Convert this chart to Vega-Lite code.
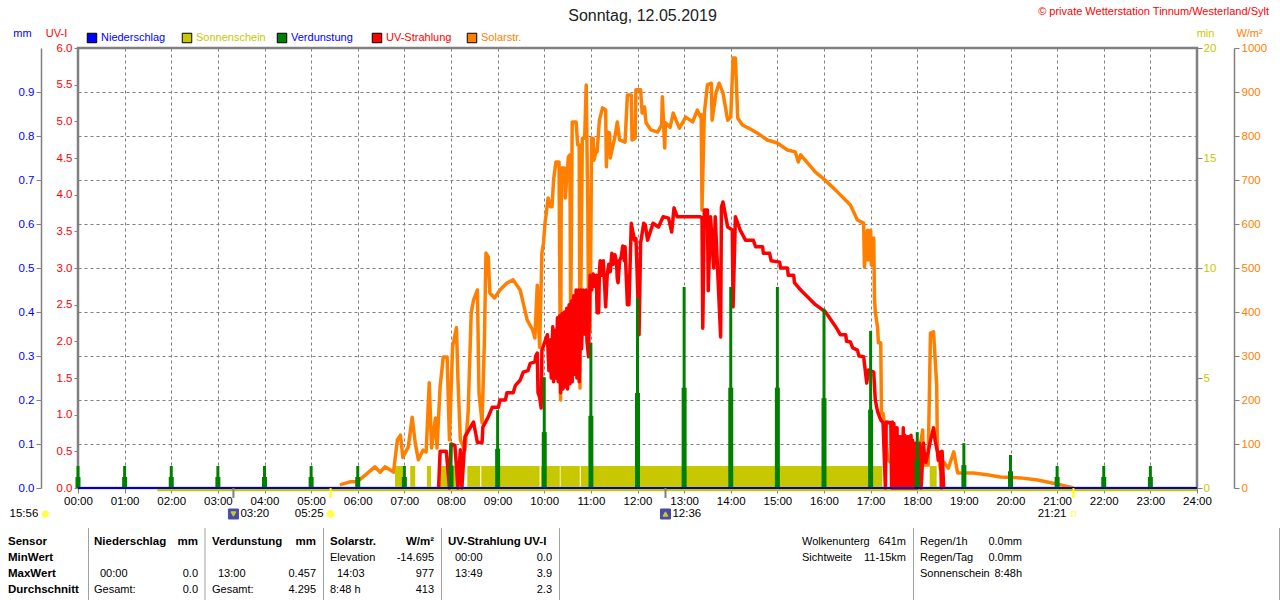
{
  "$schema": "https://vega.github.io/schema/vega-lite/v6.json",
  "width": 1119,
  "height": 440,
  "autosize": {"type": "none"},
  "padding": {"left": 78, "top": 48, "right": 83, "bottom": 112},
  "background": "white",
  "title": {"text": "Sonntag, 12.05.2019", "font": "Liberation Sans", "fontSize": 16, "fontWeight": "normal", "color": "#222222", "anchor": "middle", "dx": 5, "offset": -18},
  "config": {
    "view": {"stroke": "#808080", "strokeWidth": 2.5},
    "font": "Liberation Sans",
    "axis": {"labelFont": "Liberation Sans", "labelFontSize": 11.5, "labelFontWeight": "normal", "titleFont": "Liberation Sans", "titleFontSize": 11, "titleFontWeight": "normal", "tickColor": "#808080", "domainColor": "#808080", "labelOverlap": false, "labelFlush": false},
    "text": {"font": "Liberation Sans", "fontSize": 11, "baseline": "middle", "color": "#000000"}
  },
  "datasets": {
    "sun": [
      {"from": 408, "to": 418.5, "min": 1}, {"from": 427.5, "to": 434, "min": 1}, {"from": 449, "to": 454.5, "min": 1},
      {"from": 463.5, "to": 489, "min": 1}, {"from": 501, "to": 517.6, "min": 1}, {"from": 519, "to": 594, "min": 1},
      {"from": 595.5, "to": 620, "min": 1}, {"from": 621, "to": 645.7, "min": 1}, {"from": 647, "to": 657, "min": 1},
      {"from": 659, "to": 1035, "min": 1}, {"from": 1096, "to": 1105, "min": 1}
    ],
    "sunBase": [{"t": 102, "min": 0}, {"t": 1440, "min": 0}],
    "rainBase": [{"t": 0, "mm": 0}, {"t": 1440, "mm": 0}],
    "evap": [
      {"t": 0, "mm": 0.05, "half": 0.025}, {"t": 60, "mm": 0.05, "half": 0.025}, {"t": 120, "mm": 0.05, "half": 0.025},
      {"t": 180, "mm": 0.05, "half": 0.025}, {"t": 240, "mm": 0.05, "half": 0.025}, {"t": 300, "mm": 0.05, "half": 0.025},
      {"t": 360, "mm": 0.05, "half": 0.025}, {"t": 420, "mm": 0.05, "half": 0.025}, {"t": 480, "mm": 0.102, "half": 0.051},
      {"t": 540, "mm": 0.177, "half": 0.089}, {"t": 600, "mm": 0.252, "half": 0.127}, {"t": 660, "mm": 0.33, "half": 0.164},
      {"t": 720, "mm": 0.432, "half": 0.216}, {"t": 780, "mm": 0.457, "half": 0.228}, {"t": 840, "mm": 0.457, "half": 0.228},
      {"t": 900, "mm": 0.457, "half": 0.228}, {"t": 960, "mm": 0.407, "half": 0.204}, {"t": 1020, "mm": 0.357, "half": 0.178},
      {"t": 1080, "mm": 0.127, "half": 0.064}, {"t": 1140, "mm": 0.102, "half": 0.052}, {"t": 1200, "mm": 0.075, "half": 0.038},
      {"t": 1260, "mm": 0.05, "half": 0.025}, {"t": 1320, "mm": 0.05, "half": 0.025}, {"t": 1380, "mm": 0.05, "half": 0.025}
    ],
    "solar": [
      {"t":337,"w":7},{"t":350,"w":14},{"t":359,"w":14},{"t":370,"w":30},{"t":382,"w":48},{"t":389,"w":36},{"t":395,"w":48},{"t":402,"w":41},{"t":406,"w":36},{"t":411,"w":109},{"t":415,"w":120},{"t":418,"w":70},{"t":425,"w":93},{"t":430,"w":161},{"t":434,"w":102},{"t":438,"w":64},{"t":444,"w":86},{"t":448,"w":82},{"t":452,"w":239},{"t":455,"w":91},{"t":460,"w":159},{"t":462,"w":91},{"t":466,"w":230},{"t":469,"w":280},{"t":470,"w":298},{"t":475,"w":298},{"t":478,"w":109},{"t":482,"w":320},{"t":487,"w":364},{"t":489,"w":245},{"t":492,"w":109},{"t":498,"w":86},{"t":502,"w":170},{"t":506,"w":398},{"t":509,"w":427},{"t":514,"w":450},{"t":516,"w":216},{"t":520,"w":148},{"t":523,"w":336},{"t":525,"w":534},{"t":528,"w":525},{"t":530,"w":443},{"t":536,"w":432},{"t":543,"w":450},{"t":552,"w":466},{"t":560,"w":473},{"t":569,"w":450},{"t":573,"w":420},{"t":578,"w":382},{"t":585,"w":359},{"t":588,"w":341},{"t":591,"w":461},{"t":594,"w":320},{"t":597,"w":534},{"t":599,"w":557},
      {"t":601,"w":602},{"t":605,"w":659},{"t":608,"w":639},{"t":610,"w":639},{"t":612,"w":700},{"t":615,"w":741},{"t":619,"w":741},{"t":621,"w":200},{"t":622,"w":727},{"t":626,"w":727},{"t":627,"w":659},{"t":631,"w":752},{"t":633,"w":757},{"t":634,"w":364},{"t":636,"w":832},{"t":641,"w":832},{"t":643,"w":780},{"t":645,"w":780},{"t":646,"w":227},{"t":649,"w":795},{"t":652,"w":795},{"t":654,"w":916},{"t":656,"w":639},{"t":657,"w":400},{"t":659,"w":359},{"t":661,"w":795},{"t":663,"w":795},{"t":664,"w":745},{"t":667,"w":768},{"t":668,"w":764},{"t":671,"w":836},{"t":675,"w":864},{"t":679,"w":859},{"t":680,"w":730},{"t":681,"w":809},{"t":684,"w":807},{"t":685,"w":750},{"t":688,"w":775},{"t":691,"w":798},
      {"t":694,"w":832},{"t":697,"w":791},{"t":704,"w":786},{"t":707,"w":893},{"t":712,"w":893},{"t":713,"w":791},{"t":717,"w":795},{"t":718,"w":905},{"t":724,"w":905},{"t":726,"w":852},{"t":729,"w":866},{"t":731,"w":830},{"t":737,"w":814},{"t":746,"w":809},{"t":751,"w":825},{"t":752,"w":889},{"t":755,"w":773},{"t":756,"w":830},{"t":762,"w":820},{"t":766,"w":852},{"t":771,"w":830},{"t":774,"w":818},{"t":782,"w":843},{"t":791,"w":832},{"t":797,"w":859},{"t":801,"w":843},{"t":802,"w":848},{"t":803,"w":632},{"t":806,"w":852},{"t":810,"w":916},{"t":815,"w":920},{"t":816,"w":836},{"t":821,"w":898},{"t":825,"w":920},{"t":830,"w":898},{"t":836,"w":836},{"t":840,"w":843},{"t":843,"w":977},{"t":846,"w":977},{"t":849,"w":841},{"t":855,"w":825},{"t":863,"w":818},{"t":874,"w":807},{"t":887,"w":791},{"t":900,"w":784},{"t":913,"w":768},{"t":923,"w":764},{"t":927,"w":741},{"t":930,"w":757},{"t":949,"w":718},{"t":958,"w":705},{"t":975,"w":677},{"t":994,"w":643},{"t":1003,"w":609},{"t":1011,"w":602},{"t":1012,"w":502},{"t":1016,"w":586},{"t":1017,"w":518},{"t":1020,"w":586},{"t":1021,"w":507},{"t":1024,"w":568},{"t":1025,"w":432},{"t":1026,"w":400},{"t":1029,"w":364},{"t":1030,"w":330},{"t":1033,"w":330},{"t":1034,"w":170},{"t":1036,"w":170},{"t":1039,"w":125},{"t":1042,"w":64},{"t":1046,"w":59},{"t":1052,"w":75},{"t":1071,"w":86},{"t":1082,"w":75},{"t":1087,"w":132},{"t":1088,"w":52},{"t":1094,"w":52},{"t":1097,"w":352},{"t":1101,"w":355},{"t":1105,"w":234},{"t":1106,"w":86},{"t":1110,"w":41},{"t":1114,"w":59},{"t":1120,"w":45},{"t":1127,"w":82},{"t":1132,"w":34},{"t":1152,"w":34},{"t":1170,"w":30},{"t":1187,"w":25},{"t":1213,"w":23},{"t":1235,"w":18},{"t":1255,"w":11},{"t":1277,"w":2},{"t":1281,"w":0}
    ],
    "uv": [
      {"t":464,"uv":0},{"t":466,"uv":0.5},{"t":474,"uv":0.5},{"t":478,"uv":0},{"t":480,"uv":0.6},{"t":485,"uv":0.58},{"t":489,"uv":0},{"t":492,"uv":0.52},{"t":494,"uv":0},{"t":497,"uv":0.52},{"t":498,"uv":0.7},{"t":509,"uv":0.9},{"t":514,"uv":0.62},{"t":520,"uv":0.62},{"t":521,"uv":0.83},{"t":528,"uv":0.97},{"t":533,"uv":1.1},{"t":541,"uv":1.1},{"t":543,"uv":1.2},{"t":550,"uv":1.2},{"t":552,"uv":1.3},{"t":560,"uv":1.3},{"t":563,"uv":1.4},{"t":569,"uv":1.47},{"t":573,"uv":1.58},{"t":579,"uv":1.6},{"t":582,"uv":1.7},{"t":588,"uv":1.72},{"t":589,"uv":1.8},{"t":591,"uv":1.84},{"t":592,"uv":1.3},{"t":594,"uv":1.24},{"t":596,"uv":1.09},{"t":597,"uv":1.88},{"t":604,"uv":2.09},{"t":606,"uv":1.6},{"t":608,"uv":2.02},{"t":609,"uv":1.5},{"t":611,"uv":2.2},{"t":612,"uv":1.45},{"t":614,"uv":2.15},{"t":615,"uv":1.5},{"t":617,"uv":2.32},{"t":618,"uv":1.45},{"t":620,"uv":2.35},{"t":621,"uv":1.3},{"t":623,"uv":2.38},{"t":624,"uv":1.35},{"t":626,"uv":2.4},{"t":627,"uv":1.38},{"t":629,"uv":2.45},{"t":630,"uv":1.35},{"t":632,"uv":2.5},{"t":633,"uv":1.42},{"t":635,"uv":2.55},{"t":636,"uv":1.45},{"t":638,"uv":2.62},{"t":639,"uv":1.55},{"t":641,"uv":2.7},{"t":642,"uv":1.5},{"t":644,"uv":2.7},{"t":645,"uv":1.45},{"t":647,"uv":2.7},{"t":648,"uv":1.9},{"t":650,"uv":2.7},{"t":651,"uv":2.1},{"t":654,"uv":2.7},{"t":655,"uv":2.0},{"t":657,"uv":1.79},{"t":659,"uv":2.9},{"t":661,"uv":2.7},{"t":663,"uv":2.92},{"t":665,"uv":2.75},{"t":667,"uv":2.9},{"t":668,"uv":2.39},{"t":670,"uv":2.39},{"t":671,"uv":2.95},{"t":672,"uv":3.1},{"t":674,"uv":2.9},{"t":676,"uv":3.1},{"t":678,"uv":2.7},{"t":679,"uv":2.47},{"t":681,"uv":2.9},{"t":683,"uv":3.05},{"t":685,"uv":2.95},{"t":687,"uv":3.2},{"t":689,"uv":3.05},{"t":691,"uv":3.18},{"t":693,"uv":3.08},{"t":694,"uv":2.85},{"t":695,"uv":2.8},{"t":697,"uv":3.1},{"t":699,"uv":3.15},{"t":701,"uv":3.3},{"t":703,"uv":3.1},{"t":704,"uv":3.29},{"t":707,"uv":2.5},{"t":709,"uv":2.5},{"t":712,"uv":3.61},{"t":716,"uv":3.38},{"t":718,"uv":3.4},{"t":719,"uv":3.1},{"t":722,"uv":2.09},{"t":724,"uv":3.34},{"t":728,"uv":3.61},{"t":730,"uv":3.59},{"t":733,"uv":3.38},{"t":740,"uv":3.61},{"t":747,"uv":3.56},{"t":753,"uv":3.7},{"t":760,"uv":3.68},{"t":764,"uv":3.49},{"t":767,"uv":3.82},{"t":771,"uv":3.7},{"t":801,"uv":3.7},{"t":803,"uv":3.68},{"t":804,"uv":2.18},{"t":806,"uv":3.79},{"t":810,"uv":3.79},{"t":811,"uv":2.69},{"t":814,"uv":3.7},{"t":818,"uv":3.0},{"t":820,"uv":3.7},{"t":827,"uv":2.06},{"t":828,"uv":3.83},{"t":830,"uv":3.9},{"t":836,"uv":3.56},{"t":842,"uv":3.52},{"t":843,"uv":2.47},{"t":846,"uv":3.7},{"t":852,"uv":3.52},{"t":859,"uv":3.38},{"t":869,"uv":3.38},{"t":872,"uv":3.29},{"t":881,"uv":3.29},{"t":882,"uv":3.2},{"t":890,"uv":3.2},{"t":892,"uv":3.1},{"t":903,"uv":3.08},{"t":904,"uv":3.0},{"t":913,"uv":3.0},{"t":914,"uv":2.9},{"t":921,"uv":2.9},{"t":922,"uv":2.8},{"t":930,"uv":2.7},{"t":949,"uv":2.5},{"t":962,"uv":2.4},{"t":975,"uv":2.2},{"t":981,"uv":2.09},{"t":988,"uv":2.09},{"t":989,"uv":2.0},{"t":994,"uv":1.99},{"t":997,"uv":1.91},{"t":1003,"uv":1.88},{"t":1005,"uv":1.8},{"t":1011,"uv":1.79},{"t":1015,"uv":1.43},{"t":1017,"uv":1.61},{"t":1024,"uv":1.58},{"t":1026,"uv":1.2},{"t":1029,"uv":1.04},{"t":1033,"uv":0.93},{"t":1036,"uv":0.89},{"t":1039,"uv":0},{"t":1040,"uv":0.9},{"t":1046,"uv":0.89},{"t":1047,"uv":0},{"t":1048,"uv":0.9},{"t":1049,"uv":0},{"t":1050,"uv":0.88},{"t":1051,"uv":0},{"t":1052,"uv":0.82},{"t":1053,"uv":0},{"t":1054,"uv":0.82},{"t":1055,"uv":0},{"t":1056,"uv":0.7},{"t":1057,"uv":0},{"t":1058,"uv":0.7},{"t":1059,"uv":0},{"t":1060,"uv":0.7},{"t":1061,"uv":0},{"t":1062,"uv":0.82},{"t":1063,"uv":0},{"t":1064,"uv":0.72},{"t":1065,"uv":0},{"t":1066,"uv":0.7},{"t":1067,"uv":0},{"t":1068,"uv":0.7},{"t":1069,"uv":0},{"t":1070,"uv":0.7},{"t":1071,"uv":0},{"t":1072,"uv":0.72},{"t":1073,"uv":0},{"t":1074,"uv":0.65},{"t":1075,"uv":0},{"t":1076,"uv":0.61},{"t":1077,"uv":0},{"t":1078,"uv":0.61},{"t":1080,"uv":0},{"t":1083,"uv":0.61},{"t":1085,"uv":0},{"t":1088,"uv":0.61},{"t":1089,"uv":0.49},{"t":1091,"uv":0.35},{"t":1094,"uv":0.49},{"t":1097,"uv":0.65},{"t":1101,"uv":0.82},{"t":1103,"uv":0.65},{"t":1106,"uv":0.49},{"t":1107,"uv":0.38},{"t":1110,"uv":0.49},{"t":1111,"uv":0},{"t":1112,"uv":0.5},{"t":1114,"uv":0}
    ],
    "events": [
      {"t": 200, "kind": "moon", "row": 2, "row2": 3}, {"t": 325, "kind": "sun", "row": 2, "row2": 3},
      {"t": 756, "kind": "moon", "row": 2, "row2": 3}, {"t": 1281, "kind": "sun", "row": 2, "row2": 3}
    ],
    "icons": [
      {"t": -42, "icon": "moonlow", "row": 4}, {"t": 200, "icon": "moonbox", "row": 4}, {"t": 200, "icon": "down", "row": 4},
      {"t": 325, "icon": "sun", "row": 4}, {"t": 756, "icon": "moonbox", "row": 4}, {"t": 756, "icon": "up", "row": 4},
      {"t": 1281, "icon": "sunset", "row": 4}
    ],
    "timesRight": [{"t": -42, "text": "15:56", "row": 4}, {"t": 325, "text": "05:25", "row": 4}, {"t": 1281, "text": "21:21", "row": 4}],
    "timesLeft": [{"t": 200, "text": "03:20", "row": 4}, {"t": 756, "text": "12:36", "row": 4}],
    "legend": [
      {"series": "Niederschlag", "row": 1}, {"series": "Sonnenschein", "row": 1}, {"series": "Verdunstung", "row": 1},
      {"series": "UV-Strahlung", "row": 1}, {"series": "Solarstr.", "row": 1}
    ],
    "separators": [
      {"col": 1, "row": 5, "row2": 10}, {"col": 5, "row": 5, "row2": 10}, {"col": 9, "row": 5, "row2": 10}, {"col": 13, "row": 5, "row2": 10},
      {"col": 17, "row": 5, "row2": 10}, {"col": 20, "row": 5, "row2": 10}, {"col": 24, "row": 5, "row2": 10}
    ],
    "credit": [{"text": "© private Wetterstation Tinnum/Westerland/Sylt", "col": 23, "row": 0}],
    "boldLeft": [
      {"text": "Sensor", "col": 0, "row": 6}, {"text": "MinWert", "col": 0, "row": 7}, {"text": "MaxWert", "col": 0, "row": 8}, {"text": "Durchschnitt", "col": 0, "row": 9},
      {"text": "Niederschlag", "col": 2, "row": 6}, {"text": "Verdunstung", "col": 6, "row": 6}, {"text": "Solarstr.", "col": 10, "row": 6}, {"text": "UV-Strahlung UV-I", "col": 14, "row": 6}
    ],
    "boldRight": [{"text": "mm", "col": 4, "row": 6}, {"text": "mm", "col": 8, "row": 6}, {"text": "W/m²", "col": 12, "row": 6}],
    "plainLeft": [
      {"text": "00:00", "col": 3, "row": 8}, {"text": "Gesamt:", "col": 2, "row": 9}, {"text": "13:00", "col": 7, "row": 8}, {"text": "Gesamt:", "col": 6, "row": 9},
      {"text": "Elevation", "col": 10, "row": 7}, {"text": "14:03", "col": 11, "row": 8}, {"text": "8:48 h", "col": 10, "row": 9},
      {"text": "00:00", "col": 15, "row": 7}, {"text": "13:49", "col": 15, "row": 8},
      {"text": "Wolkenunterg", "col": 18, "row": 6}, {"text": "Sichtweite", "col": 18, "row": 7},
      {"text": "Regen/1h", "col": 21, "row": 6}, {"text": "Regen/Tag", "col": 21, "row": 7}, {"text": "Sonnenschein", "col": 21, "row": 8}
    ],
    "plainRight": [
      {"text": "0.0", "col": 4, "row": 8}, {"text": "0.0", "col": 4, "row": 9}, {"text": "0.457", "col": 8, "row": 8}, {"text": "4.295", "col": 8, "row": 9},
      {"text": "-14.695", "col": 12, "row": 7}, {"text": "977", "col": 12, "row": 8}, {"text": "413", "col": 12, "row": 9},
      {"text": "0.0", "col": 16, "row": 7}, {"text": "3.9", "col": 16, "row": 8}, {"text": "2.3", "col": 16, "row": 9},
      {"text": "641m", "col": 19, "row": 6}, {"text": "11-15km", "col": 19, "row": 7},
      {"text": "0.0mm", "col": 22, "row": 6}, {"text": "0.0mm", "col": 22, "row": 7}, {"text": "8:48h", "col": 22, "row": 8}
    ]
  },
  "resolve": {
    "scale": {"x": "independent", "y": "independent", "color": "independent", "fill": "independent", "stroke": "independent", "shape": "independent", "size": "independent"},
    "axis": {"x": "independent", "y": "independent"}
  },
  "layer": [
    {
      "data": {"name": "sun"},
      "mark": {"type": "rect", "color": "#c8c800"},
      "encoding": {
        "x": {"field": "from", "type": "quantitative", "title": null, "scale": {"domain": [0, 1440], "nice": false},
          "axis": {"values": [0,60,120,180,240,300,360,420,480,540,600,660,720,780,840,900,960,1020,1080,1140,1200,1260,1320,1380,1440], "orient": "bottom", "domain": false, "tickSize": 5, "labelPadding": 2, "labelColor": "#000000", "labelExpr": "(datum.value<600?'0':'')+floor(datum.value/60)+':00'", "grid": true, "gridColor": "#808080", "gridDash": [3, 3], "gridWidth": 1}},
        "x2": {"field": "to"},
        "y": {"field": "min", "type": "quantitative", "scale": {"domain": [0, 20], "nice": false},
          "axis": {"orient": "right", "values": [0, 5, 10, 15, 20], "title": "min", "titleColor": "#c8c800", "titleAngle": 0, "titleX": 8, "titleY": -10, "labelColor": "#c8c800", "tickSize": 5, "labelPadding": 1, "domain": false, "grid": false}},
        "y2": {"datum": 0}
      }
    },
    {
      "data": {"name": "sunBase"},
      "mark": {"type": "line", "color": "#c8c800", "strokeWidth": 2.5, "yOffset": 2},
      "encoding": {
        "x": {"field": "t", "type": "quantitative", "axis": null, "scale": {"domain": [0, 1440], "nice": false}},
        "y": {"field": "min", "type": "quantitative", "axis": null, "scale": {"domain": [0, 20], "nice": false}}
      }
    },
    {
      "data": {"name": "solar"},
      "mark": {"type": "line", "color": "#ff8000", "strokeWidth": 3.5, "strokeJoin": "round"},
      "encoding": {
        "x": {"field": "t", "type": "quantitative", "axis": null, "scale": {"domain": [0, 1440], "nice": false}},
        "y": {"field": "w", "type": "quantitative", "scale": {"domain": [0, 1000], "nice": false},
          "axis": {"orient": "right", "offset": 37, "values": [0,100,200,300,400,500,600,700,800,900,1000], "format": "d", "title": "W/m²", "titleColor": "#ff8000", "titleAngle": 0, "titleX": 15, "titleY": -10, "labelColor": "#ff8000", "tickSize": 5, "labelPadding": 2, "domain": true, "domainWidth": 1.5, "grid": false}}
      }
    },
    {
      "data": {"name": "uv"},
      "mark": {"type": "line", "color": "#ff0000", "strokeWidth": 3.5, "strokeJoin": "round"},
      "encoding": {
        "x": {"field": "t", "type": "quantitative", "axis": null, "scale": {"domain": [0, 1440], "nice": false}},
        "y": {"field": "uv", "type": "quantitative", "scale": {"domain": [0, 6], "nice": false},
          "axis": {"orient": "left", "values": [0,0.5,1,1.5,2,2.5,3,3.5,4,4.5,5,5.5,6], "format": ".1f", "title": "UV-I", "titleColor": "#ff0000", "titleAngle": 0, "titleX": -22, "titleY": -10, "labelColor": "#ff0000", "tickSize": 4, "labelPadding": 2, "domain": false, "grid": false}}
      }
    },
    {
      "data": {"name": "evap"},
      "mark": {"type": "rule", "color": "#008000", "strokeWidth": 3},
      "encoding": {
        "x": {"field": "t", "type": "quantitative", "axis": null, "scale": {"domain": [0, 1440], "nice": false}},
        "y": {"field": "mm", "type": "quantitative", "axis": null, "scale": {"domain": [0, 1], "nice": false}},
        "y2": {"datum": 0}
      }
    },
    {
      "data": {"name": "evap"},
      "mark": {"type": "rule", "color": "#008000", "strokeWidth": 5},
      "encoding": {
        "x": {"field": "t", "type": "quantitative", "axis": null, "scale": {"domain": [0, 1440], "nice": false}},
        "y": {"field": "half", "type": "quantitative", "axis": null, "scale": {"domain": [0, 1], "nice": false}},
        "y2": {"datum": 0}
      }
    },
    {
      "data": {"name": "rainBase"},
      "mark": {"type": "line", "color": "#0000c8", "strokeWidth": 2},
      "encoding": {
        "x": {"field": "t", "type": "quantitative", "axis": null, "scale": {"domain": [0, 1440], "nice": false}},
        "y": {"field": "mm", "type": "quantitative", "scale": {"domain": [0, 1], "nice": false},
          "axis": {"orient": "left", "offset": 37, "values": [0,0.1,0.2,0.3,0.4,0.5,0.6,0.7,0.8,0.9], "format": ".1f", "title": "mm", "titleColor": "#0000ff", "titleAngle": 0, "titleX": -19, "titleY": -10, "labelColor": "#0000ff", "tickSize": 5, "labelPadding": 2, "domain": true, "domainWidth": 1.5, "grid": true, "gridColor": "#808080", "gridDash": [3, 3], "gridWidth": 1}}
      }
    },
    {
      "data": {"name": "events"},
      "mark": {"type": "rule", "strokeWidth": 2},
      "encoding": {
        "x": {"field": "t", "type": "quantitative", "axis": null, "scale": {"domain": [0, 1440], "nice": false}},
        "y": {"field": "row", "type": "quantitative", "axis": null, "scale": {"domain": [0,1,2,3,4,5,6,7,8,9,10], "range": [-36,-10,440,450,466,480,494,510,526,542,552]}},
        "y2": {"field": "row2"},
        "color": {"field": "kind", "type": "nominal", "legend": null, "scale": {"domain": ["moon", "sun"], "range": ["#808080", "#ffff00"]}}
      }
    },
    {
      "data": {"name": "icons"},
      "mark": {"type": "point", "filled": true, "strokeWidth": 1},
      "encoding": {
        "x": {"field": "t", "type": "quantitative", "axis": null, "scale": {"domain": [0, 1440], "nice": false}},
        "y": {"field": "row", "type": "quantitative", "axis": null, "scale": {"domain": [0,1,2,3,4,5,6,7,8,9,10], "range": [-36,-10,440,450,466,480,494,510,526,542,552]}},
        "shape": {"field": "icon", "type": "nominal", "legend": null, "scale": {"domain": ["moonlow", "moonbox", "down", "up", "sun", "sunset"], "range": ["circle", "square", "triangle-down", "triangle-up", "circle", "square"]}},
        "fill": {"field": "icon", "type": "nominal", "legend": null, "scale": {"domain": ["moonlow", "moonbox", "down", "up", "sun", "sunset"], "range": ["#ffff00", "#000080", "#ffff00", "#ffff00", "#ffff00", "#ffffff"]}},
        "stroke": {"field": "icon", "type": "nominal", "legend": null, "scale": {"domain": ["moonlow", "moonbox", "down", "up", "sun", "sunset"], "range": ["#ffff00", "#000080", "#ffff00", "#ffff00", "#ffffaa", "#ffff00"]}},
        "size": {"field": "icon", "type": "nominal", "legend": null, "scale": {"type": "ordinal", "domain": ["moonlow", "moonbox", "down", "up", "sun", "sunset"], "range": [40, 100, 25, 25, 70, 20]}}
      }
    },
    {
      "data": {"name": "timesRight"},
      "mark": {"type": "text", "align": "right", "dx": -7, "fontSize": 11.5},
      "encoding": {
        "x": {"field": "t", "type": "quantitative", "axis": null, "scale": {"domain": [0, 1440], "nice": false}},
        "y": {"field": "row", "type": "quantitative", "axis": null, "scale": {"domain": [0,1,2,3,4,5,6,7,8,9,10], "range": [-36,-10,440,450,466,480,494,510,526,542,552]}},
        "text": {"field": "text"}
      }
    },
    {
      "data": {"name": "timesLeft"},
      "mark": {"type": "text", "align": "left", "dx": 7, "fontSize": 11.5},
      "encoding": {
        "x": {"field": "t", "type": "quantitative", "axis": null, "scale": {"domain": [0, 1440], "nice": false}},
        "y": {"field": "row", "type": "quantitative", "axis": null, "scale": {"domain": [0,1,2,3,4,5,6,7,8,9,10], "range": [-36,-10,440,450,466,480,494,510,526,542,552]}},
        "text": {"field": "text"}
      }
    },
    {
      "data": {"name": "legend"},
      "mark": {"type": "point", "shape": "square", "filled": true, "size": 90, "stroke": "#000000", "strokeWidth": 1, "opacity": 1},
      "encoding": {
        "x": {"field": "series", "type": "nominal", "sort": null, "axis": null, "scale": {"type": "point", "padding": 0, "range": [14, 394]}},
        "y": {"field": "row", "type": "quantitative", "axis": null, "scale": {"domain": [0,1,2,3,4,5,6,7,8,9,10], "range": [-36,-10,440,450,466,480,494,510,526,542,552]}},
        "fill": {"field": "series", "type": "nominal", "legend": null, "scale": {"domain": ["Niederschlag", "Sonnenschein", "Verdunstung", "UV-Strahlung", "Solarstr."], "range": ["#0000ff", "#c8c800", "#008000", "#ff0000", "#ff8000"]}}
      }
    },
    {
      "data": {"name": "legend"},
      "mark": {"type": "text", "align": "left", "dx": 9},
      "encoding": {
        "x": {"field": "series", "type": "nominal", "sort": null, "axis": null, "scale": {"type": "point", "padding": 0, "range": [14, 394]}},
        "y": {"field": "row", "type": "quantitative", "axis": null, "scale": {"domain": [0,1,2,3,4,5,6,7,8,9,10], "range": [-36,-10,440,450,466,480,494,510,526,542,552]}},
        "text": {"field": "series"},
        "color": {"field": "series", "type": "nominal", "legend": null, "scale": {"domain": ["Niederschlag", "Sonnenschein", "Verdunstung", "UV-Strahlung", "Solarstr."], "range": ["#0000ff", "#c8c800", "#0000ff", "#ff0000", "#ff8000"]}}
      }
    },
    {
      "data": {"name": "separators"},
      "mark": {"type": "rule", "color": "#a0a0a0", "strokeWidth": 1},
      "encoding": {
        "x": {"field": "col", "type": "quantitative", "axis": null, "scale": {"domain": [0,1,2,3,4,5,6,7,8,9,10,11,12,13,14,15,16,17,18,19,20,21,22,23,24], "range": [-70,10.5,16,22,120,127,134,140,238,245.5,252,259,356,363.5,370,377,474,481.5,724,828,835.5,842,944,1191,1201.5]}},
        "y": {"field": "row", "type": "quantitative", "axis": null, "scale": {"domain": [0,1,2,3,4,5,6,7,8,9,10], "range": [-36,-10,440,450,466,480,494,510,526,542,552]}},
        "y2": {"field": "row2"}
      }
    },
    {
      "data": {"name": "credit"},
      "mark": {"type": "text", "align": "right", "color": "#ff0000"},
      "encoding": {
        "x": {"field": "col", "type": "quantitative", "axis": null, "scale": {"domain": [0,1,2,3,4,5,6,7,8,9,10,11,12,13,14,15,16,17,18,19,20,21,22,23,24], "range": [-70,10.5,16,22,120,127,134,140,238,245.5,252,259,356,363.5,370,377,474,481.5,724,828,835.5,842,944,1191,1201.5]}},
        "y": {"field": "row", "type": "quantitative", "axis": null, "scale": {"domain": [0,1,2,3,4,5,6,7,8,9,10], "range": [-36,-10,440,450,466,480,494,510,526,542,552]}},
        "text": {"field": "text"}
      }
    },
    {
      "data": {"name": "boldLeft"},
      "mark": {"type": "text", "align": "left", "fontWeight": "bold", "fontSize": 11.5},
      "encoding": {
        "x": {"field": "col", "type": "quantitative", "axis": null, "scale": {"domain": [0,1,2,3,4,5,6,7,8,9,10,11,12,13,14,15,16,17,18,19,20,21,22,23,24], "range": [-70,10.5,16,22,120,127,134,140,238,245.5,252,259,356,363.5,370,377,474,481.5,724,828,835.5,842,944,1191,1201.5]}},
        "y": {"field": "row", "type": "quantitative", "axis": null, "scale": {"domain": [0,1,2,3,4,5,6,7,8,9,10], "range": [-36,-10,440,450,466,480,494,510,526,542,552]}},
        "text": {"field": "text"}
      }
    },
    {
      "data": {"name": "boldRight"},
      "mark": {"type": "text", "align": "right", "fontWeight": "bold", "fontSize": 11.5},
      "encoding": {
        "x": {"field": "col", "type": "quantitative", "axis": null, "scale": {"domain": [0,1,2,3,4,5,6,7,8,9,10,11,12,13,14,15,16,17,18,19,20,21,22,23,24], "range": [-70,10.5,16,22,120,127,134,140,238,245.5,252,259,356,363.5,370,377,474,481.5,724,828,835.5,842,944,1191,1201.5]}},
        "y": {"field": "row", "type": "quantitative", "axis": null, "scale": {"domain": [0,1,2,3,4,5,6,7,8,9,10], "range": [-36,-10,440,450,466,480,494,510,526,542,552]}},
        "text": {"field": "text"}
      }
    },
    {
      "data": {"name": "plainLeft"},
      "mark": {"type": "text", "align": "left"},
      "encoding": {
        "x": {"field": "col", "type": "quantitative", "axis": null, "scale": {"domain": [0,1,2,3,4,5,6,7,8,9,10,11,12,13,14,15,16,17,18,19,20,21,22,23,24], "range": [-70,10.5,16,22,120,127,134,140,238,245.5,252,259,356,363.5,370,377,474,481.5,724,828,835.5,842,944,1191,1201.5]}},
        "y": {"field": "row", "type": "quantitative", "axis": null, "scale": {"domain": [0,1,2,3,4,5,6,7,8,9,10], "range": [-36,-10,440,450,466,480,494,510,526,542,552]}},
        "text": {"field": "text"}
      }
    },
    {
      "data": {"name": "plainRight"},
      "mark": {"type": "text", "align": "right"},
      "encoding": {
        "x": {"field": "col", "type": "quantitative", "axis": null, "scale": {"domain": [0,1,2,3,4,5,6,7,8,9,10,11,12,13,14,15,16,17,18,19,20,21,22,23,24], "range": [-70,10.5,16,22,120,127,134,140,238,245.5,252,259,356,363.5,370,377,474,481.5,724,828,835.5,842,944,1191,1201.5]}},
        "y": {"field": "row", "type": "quantitative", "axis": null, "scale": {"domain": [0,1,2,3,4,5,6,7,8,9,10], "range": [-36,-10,440,450,466,480,494,510,526,542,552]}},
        "text": {"field": "text"}
      }
    }
  ]
}
